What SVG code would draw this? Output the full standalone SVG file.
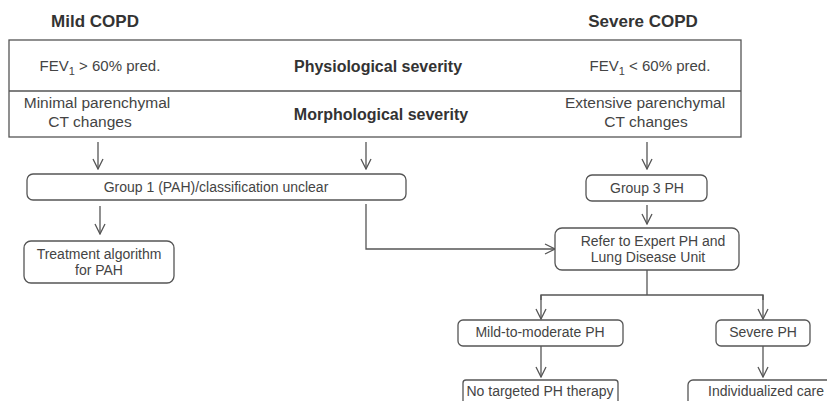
<svg xmlns="http://www.w3.org/2000/svg" width="827" height="401" viewBox="0 0 827 401">
<style>
.t{font-family:"Liberation Sans",Arial,sans-serif;font-size:14px;fill:#444;text-anchor:middle}
.r{font-size:15.5px}
.b{font-weight:bold;fill:#333;font-size:16px}
.h{font-family:"Liberation Sans",Arial,sans-serif;font-weight:bold;font-size:17px;fill:#333;text-anchor:middle}
.box{fill:#fff;stroke:#555;stroke-width:1.3}
.ln{fill:none;stroke:#555;stroke-width:1.3}
</style>
<defs>
<marker id="arr" viewBox="0 0 12 12" refX="11" refY="6" markerWidth="12" markerHeight="12" markerUnits="userSpaceOnUse" orient="auto">
<polyline points="1,1 11,6 1,11" fill="none" stroke="#555" stroke-width="1.3"/>
</marker>
</defs>
<g id="titles">
<text class="h" x="95" y="27">Mild COPD</text>
<text class="h" x="643" y="27">Severe COPD</text>
</g>
<g id="table">
<rect class="box" x="9" y="40" width="732" height="97"/>
<line class="ln" x1="9" y1="91" x2="741" y2="91"/>
<text class="t" x="100" y="71" style="font-size:15px">FEV<tspan font-size="11" dy="4">1</tspan><tspan dy="-4"> &gt; 60% pred.</tspan></text>
<text class="t b" x="378" y="72">Physiological severity</text>
<text class="t" x="650" y="71" style="font-size:15px">FEV<tspan font-size="11" dy="4">1</tspan><tspan dy="-4"> &lt; 60% pred.</tspan></text>
<text class="t r" x="97" y="108">Minimal parenchymal</text>
<text class="t r" x="90" y="127">CT changes</text>
<text class="t b" x="381" y="120">Morphological severity</text>
<text class="t r" x="645" y="108">Extensive parenchymal</text>
<text class="t r" x="646" y="127">CT changes</text>
</g>
<g id="connectors">
<line class="ln" x1="98" y1="142" x2="98" y2="169" marker-end="url(#arr)"/>
<line class="ln" x1="366" y1="142" x2="366" y2="169" marker-end="url(#arr)"/>
<line class="ln" x1="647" y1="142" x2="647" y2="169" marker-end="url(#arr)"/>
<line class="ln" x1="100" y1="206" x2="100" y2="234" marker-end="url(#arr)"/>
<polyline class="ln" points="366,204 366,249 555,249" marker-end="url(#arr)"/>
<line class="ln" x1="647" y1="205" x2="647" y2="224" marker-end="url(#arr)"/>
<line class="ln" x1="647" y1="270" x2="647" y2="295"/>
<polyline class="ln" points="541,300 541,295 763,295 763,300"/>
<line class="ln" x1="541" y1="295" x2="541" y2="319" marker-end="url(#arr)"/>
<line class="ln" x1="763" y1="295" x2="763" y2="319" marker-end="url(#arr)"/>
<line class="ln" x1="541" y1="346" x2="541" y2="377" marker-end="url(#arr)"/>
<line class="ln" x1="763" y1="346" x2="763" y2="377" marker-end="url(#arr)"/>
</g>
<g id="group1">
<rect class="box" x="27" y="174" width="379" height="26" rx="6"/>
<text class="t" x="216" y="192">Group 1 (PAH)/classification unclear</text>
</g>
<g id="treatment">
<rect class="box" x="24" y="241" width="150" height="42" rx="7"/>
<text class="t" x="99" y="259">Treatment algorithm</text>
<text class="t" x="99" y="275">for PAH</text>
</g>
<g id="group3">
<rect class="box" x="586" y="175" width="121" height="26" rx="6"/>
<text class="t" x="647" y="193">Group 3 PH</text>
</g>
<g id="refer">
<rect class="box" x="555" y="228" width="184" height="42" rx="7"/>
<text class="t" x="653" y="246">Refer to Expert PH and</text>
<text class="t" x="648" y="262">Lung Disease Unit</text>
</g>
<g id="mild">
<rect class="box" x="458" y="320" width="165" height="26" rx="5"/>
<text class="t" x="540" y="337">Mild-to-moderate PH</text>
</g>
<g id="severe">
<rect class="box" x="716" y="320" width="94" height="26" rx="5"/>
<text class="t" x="763" y="337">Severe PH</text>
</g>
<g id="notargeted">
<rect class="box" x="463" y="380" width="155" height="30" rx="3"/>
<text class="t" x="540" y="396">No targeted PH therapy</text>
</g>
<g id="individualized">
<rect class="box" x="688" y="380" width="150" height="30" rx="5"/>
<text class="t" x="766" y="396">Individualized care</text>
</g>
</svg>
